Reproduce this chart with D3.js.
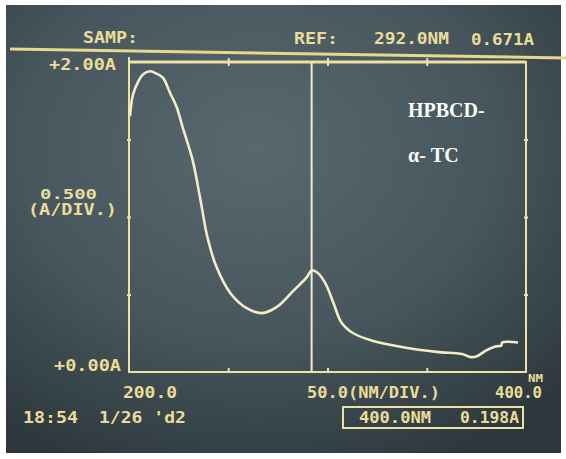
<!DOCTYPE html>
<html>
<head>
<meta charset="utf-8">
<script src="https://cdn.jsdelivr.net/npm/d3@7"></script>
<style>
  html, body { margin: 0; padding: 0; background: #fff; }
  svg { display: block; }
  .lcd { font-family: "DejaVu Sans Mono", monospace; font-weight: bold; fill: #eadc98; }
  .note { font-family: "Liberation Serif", "Times New Roman", serif; font-weight: bold; fill: #fbfbf6; font-size: 20px; }
</style>
</head>
<body>
<div id="chart"></div>
<script>
// Spectrum trace: wavelength (nm) and absorbance (A)
const wavelength = [200.5, 202, 204.5, 207, 210.6, 213, 217, 220.7, 224, 227, 232, 236, 239.5, 244, 251,
  259.5, 267, 274.5, 282.5, 289.5, 292, 295, 299, 303, 307, 313, 323, 338, 355, 367.8, 371.8, 375,
  380, 384.5, 387.5, 388, 396];
const absorbance = [1.65, 1.79, 1.87, 1.92, 1.94, 1.93, 1.90, 1.80, 1.71, 1.58, 1.37, 1.11, 0.87, 0.68, 0.51,
  0.41, 0.38, 0.42, 0.52, 0.61, 0.655, 0.64, 0.57, 0.445, 0.32, 0.25, 0.20, 0.16, 0.13, 0.116, 0.097, 0.10,
  0.14, 0.165, 0.17, 0.19, 0.19];

const xDomain = [200, 400];     // 50.0 NM/DIV
const yDomain = [0, 2];         // 0.500 A/DIV
const xTicks = [250, 300, 350];
const yTicks = [0.5, 1.0, 1.5];
const refNm = 292.0;

const W = 566, H = 459;
const fx = { left: 129, right: 526, top: 62, bottom: 372 };
const ink = "#ede2a2";

const svg = d3.select("#chart").append("svg").attr("width", W).attr("height", H);

// screen background with a bit of vignette
const defs = svg.append("defs");
const grad = defs.append("radialGradient").attr("id", "glass")
  .attr("cx", "45%").attr("cy", "32%").attr("r", "78%");
grad.append("stop").attr("offset", "0%").attr("stop-color", "#57686e");
grad.append("stop").attr("offset", "55%").attr("stop-color", "#46565c");
grad.append("stop").attr("offset", "100%").attr("stop-color", "#2c373b");
svg.append("rect").attr("x", 6).attr("y", 5).attr("width", 555).attr("height", 448)
  .attr("fill", "url(#glass)");

const x = d3.scaleLinear().domain(xDomain).range([fx.left, fx.right]);
const y = d3.scaleLinear().domain(yDomain).range([fx.bottom, fx.top]);

// header rule
svg.append("line").attr("x1", 10).attr("y1", 49).attr("x2", 566).attr("y2", 58)
  .attr("stroke", "#e6d98c").attr("stroke-width", 3);

// frame
const g = svg.append("g");
g.append("rect").attr("x", fx.left).attr("y", fx.top)
  .attr("width", fx.right - fx.left).attr("height", fx.bottom - fx.top)
  .attr("fill", "none").attr("stroke", ink).attr("stroke-width", 2);
g.append("line").attr("x1", fx.left).attr("x2", fx.right).attr("y1", fx.top).attr("y2", fx.top)
  .attr("stroke", ink).attr("stroke-width", 3);
g.append("line").attr("x1", fx.left).attr("x2", fx.left).attr("y1", fx.top - 5).attr("y2", fx.top)
  .attr("stroke", ink).attr("stroke-width", 2);

// ticks via axes, no labels
function tickAxis(axis, transform, inner) {
  const a = g.append("g").attr("transform", transform)
    .call(axis.tickSizeInner(inner).tickSizeOuter(0).tickFormat(""));
  a.select(".domain").remove();
  a.selectAll("line").attr("stroke", ink).attr("stroke-width", 2);
  return a;
}
tickAxis(d3.axisTop(x).tickValues(xTicks), `translate(0,${fx.top + 4})`, 8);
tickAxis(d3.axisTop(x).tickValues(xTicks), `translate(0,${fx.bottom})`, 4);
tickAxis(d3.axisLeft(y).tickValues(yTicks), `translate(${fx.left + 2},0)`, 4);
tickAxis(d3.axisLeft(y).tickValues(yTicks), `translate(${fx.right + 2},0)`, 4);

// reference cursor
g.append("line").attr("x1", x(refNm)).attr("x2", x(refNm)).attr("y1", fx.top).attr("y2", fx.bottom)
  .attr("stroke", "#f1ead0").attr("stroke-width", 2);

// trace
const pts = wavelength.map((w, i) => [w, absorbance[i]]);
const line = d3.line().x(d => x(d[0])).y(d => y(d[1])).curve(d3.curveCatmullRom.alpha(0.5));
g.append("path").datum(pts).attr("d", line)
  .attr("fill", "none").attr("stroke", "#f3edc6").attr("stroke-width", 2.6)
  .attr("stroke-linejoin", "round");

// screen texts: [text, left, right, baseline, size]
const labels = [
  ["SAMP:", 83, 138, 43, 15],
  ["REF:", 294, 338, 44, 15],
  ["292.0NM", 374, 449, 44, 15],
  ["0.671A", 471, 534, 45, 15],
  ["+2.00A", 49, 116, 70, 15],
  ["0.500", 40, 97, 199, 14],
  ["(A/DIV.)", 28, 117, 215, 15],
  ["+0.00A", 54, 121, 371, 15],
  ["200.0", 123, 177, 398, 15],
  ["50.0(NM/DIV.)", 307, 440, 398, 15],
  ["NM", 528, 543, 382, 11],
  ["400.0", 495, 542, 398, 15],
  ["18:54", 23, 78, 423, 15],
  ["1/26 'd2", 99, 186, 423, 15],
  ["400.0NM", 359, 431, 423, 15],
  ["0.198A", 460, 519, 423, 15]
];
svg.selectAll("text.lcd").data(labels).join("text")
  .attr("class", "lcd")
  .attr("x", d => d[1]).attr("y", d => d[3])
  .attr("font-size", d => d[4])
  .attr("textLength", d => d[2] - d[1])
  .attr("lengthAdjust", "spacingAndGlyphs")
  .text(d => d[0]);

// readout box
svg.append("rect").attr("x", 343).attr("y", 407).attr("width", 180).attr("height", 21)
  .attr("fill", "none").attr("stroke", ink).attr("stroke-width", 2);

// sample annotation
svg.append("text").attr("class", "note").attr("x", 408).attr("y", 117).text("HPBCD-");
svg.append("text").attr("class", "note").attr("x", 408).attr("y", 162).text("α- TC");
</script>
</body>
</html>
